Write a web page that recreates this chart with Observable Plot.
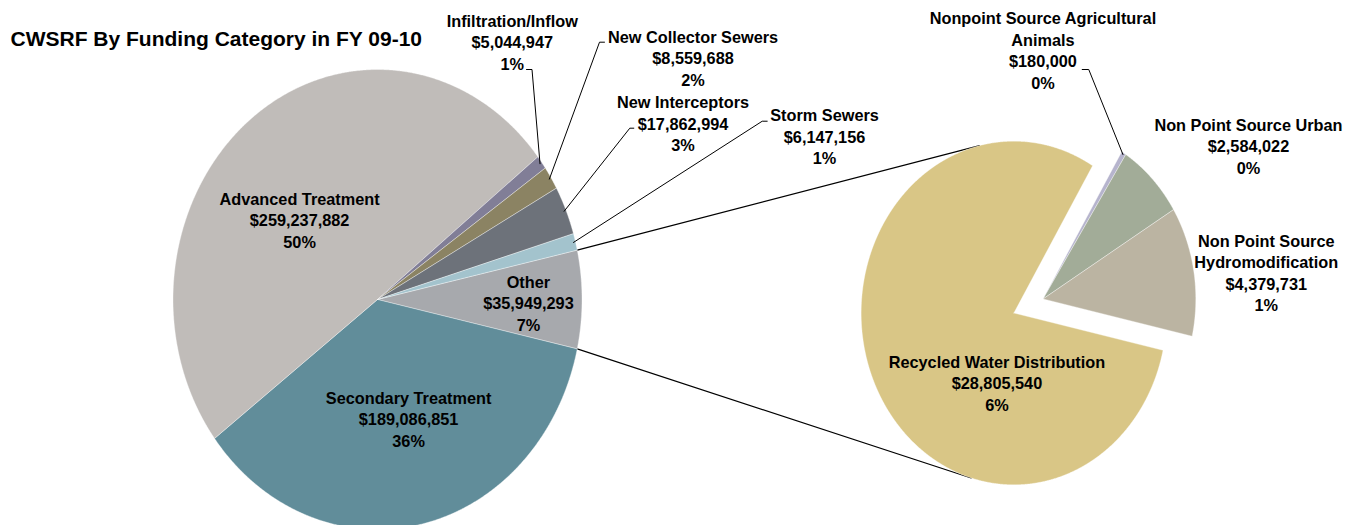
<!DOCTYPE html>
<html><head><meta charset="utf-8">
<script src="https://cdn.jsdelivr.net/npm/d3@7"></script>
<script src="https://cdn.jsdelivr.net/npm/@observablehq/plot@0.6"></script>
<style>body{margin:0;background:#fff}</style>
</head><body><div id="chart"></div>
<script>
const title = "CWSRF By Funding Category in FY 09-10";
// main pie, clockwise order starting with the "Other" slice
const mainCategories = ["Other","Secondary Treatment","Advanced Treatment","Infiltration/Inflow","New Collector Sewers","New Interceptors","Storm Sewers"];
const mainValues = [35949293,189086851,259237882,5044947,8559688,17862994,6147156];
const mainColors = ["#a7a9ad","#618d9a","#c0bcb9","#817e97","#8b8363","#6d727a","#a3c3cd"];
// secondary pie (breakdown of "Other"), clockwise
const subCategories = ["Nonpoint Source Agricultural\nAnimals","Non Point Source Urban","Non Point Source\nHydromodification","Recycled Water Distribution"];
const subValues = [180000,2584022,4379731,28805540];
const subColors = ["#b6b4cd","#a2ac98","#bbb4a2","#d9c686"];
const subExploded = [true,true,true,false];

// ---- layout (chart units: main pie radius = 1, centre at 0,0) ----
const W = 1356, H = 525;
const PX = 204.5, PY = 230, CX = 377, CY = 299;
const ux = p => (p - CX) / PX, uy = p => (CY - p) / PY;
const subPie = {cx: 3.112, cy: -0.0587, r: 0.747, start: 31, explode: 0.155};
const labelPos = {
  "Advanced Treatment": [-0.381, 0.348],
  "Secondary Treatment": [0.152, -0.516],
  "Other": [0.738, -0.012],
  "Infiltration/Inflow": [0.659, 1.122],
  "New Collector Sewers": [1.543, 1.053],
  "New Interceptors": [1.494, 0.768],
  "Storm Sewers": [2.186, 0.711],
  "Nonpoint Source Agricultural\nAnimals": [3.254, 1.086],
  "Non Point Source Urban": [4.259, 0.670],
  "Non Point Source\nHydromodification": [4.346, 0.120],
  "Recycled Water Distribution": [3.029, -0.360]
};
const leaderStart = {
  "Infiltration/Inflow": [[0.7286, 1.0], [0.7555, 1.0]],
  "New Collector Sewers": [[1.110, 1.1187], [1.0856, 1.1187]],
  "New Interceptors": [[1.2533, 0.7448], [1.2337, 0.7448]],
  "Storm Sewers": [[1.9056, 0.7752], [1.8812, 0.7752]],
  "Nonpoint Source Agricultural\nAnimals": [[3.446, 1.0], [3.478, 1.0]]
};

const rad = Math.PI / 180;
const pt = (a, r, cx, cy) => [cx + r * Math.sin(a * rad), cy + r * Math.cos(a * rad)];
const total = d3.sum(mainValues);
const fmt$ = d3.format("$,");

function slices(names, values, colors, start, cx, cy, r, offsets) {
  const sum = d3.sum(values);
  let a = start;
  return names.map((name, i) => {
    const span = values[i] / sum * 360;
    const s = {name, value: values[i], color: colors[i], a0: a, a1: a + span, mid: a + span / 2, cx, cy, r};
    if (offsets) { s.cx += offsets[i][0]; s.cy += offsets[i][1]; }
    a += span;
    return s;
  });
}

const otherSpan = mainValues[0] / total * 360;
const mainSlices = slices(mainCategories, mainValues, mainColors, 90 - otherSpan / 2, 0, 0, 1);

// exploded offset for small secondary slices
const subSum = d3.sum(subValues);
const smallSpan = d3.sum(subValues.filter((v, i) => subExploded[i])) / subSum * 360;
const exMid = subPie.start + smallSpan / 2;
const exOff = [subPie.explode * Math.sin(exMid * rad), subPie.explode * Math.cos(exMid * rad)];
const subSlices = slices(subCategories, subValues, subColors, subPie.start, subPie.cx, subPie.cy, subPie.r,
  subExploded.map(e => e ? exOff : [0, 0]));

function polys(sl) {
  const out = [];
  for (const s of sl) {
    const n = Math.max(2, Math.ceil((s.a1 - s.a0) / 0.25));
    out.push({name: s.name, color: s.color, x: s.cx, y: s.cy});
    for (let k = 0; k <= n; k++) {
      const [x, y] = pt(s.a0 + (s.a1 - s.a0) * k / n, s.r, s.cx, s.cy);
      out.push({name: s.name, color: s.color, x, y});
    }
    out.push({name: s.name, color: s.color, x: s.cx, y: s.cy});
  }
  return out;
}
const allSlices = [...mainSlices, ...subSlices];
const polyData = polys(allSlices);

// connector lines: from Other's arc ends, tangent to secondary pie
const oth = mainSlices[0];
function tangent(P, sign) {
  const vx = P[0] - subPie.cx, vy = P[1] - subPie.cy;
  const d = Math.hypot(vx, vy), base = Math.atan2(vy, vx), th = Math.acos(subPie.r / d);
  const ang = base + sign * th;
  return [subPie.cx + subPie.r * Math.cos(ang), subPie.cy + subPie.r * Math.sin(ang)];
}
const P1 = pt(oth.a0, 1, 0, 0), P2 = pt(oth.a1, 1, 0, 0);
const T1 = tangent(P1, -1), T2 = tangent(P2, 1);
const connData = [
  {id: "up", x: P1[0], y: P1[1]}, {id: "up", x: T1[0], y: T1[1]},
  {id: "dn", x: P2[0], y: P2[1]}, {id: "dn", x: T2[0], y: T2[1]}
];

// leader lines
const leaderData = [];
for (const s of allSlices) {
  const st = leaderStart[s.name];
  if (!st) continue;
  const e = pt(s.mid, s.r * 0.99, s.cx, s.cy);
  for (const p of [...st, e]) leaderData.push({id: s.name, x: p[0], y: p[1]});
}

// labels
const labelData = allSlices.map(s => ({
  text: `${s.name}\n${fmt$(s.value)}\n${Math.round(s.value / total * 100)}%`,
  x: labelPos[s.name][0], y: labelPos[s.name][1]
}));

const chart = Plot.plot({
  width: W, height: H, margin: 0,
  x: {domain: [ux(0), ux(W)], axis: null},
  y: {domain: [uy(H), uy(0)], axis: null},
  color: {type: "identity"},
  style: {background: "#fff", fontFamily: "'Liberation Sans', Arial, sans-serif", overflow: "visible"},
  marks: [
    Plot.line(connData, {x: "x", y: "y", z: "id", stroke: "#000", strokeWidth: 1.1}),
    Plot.line(polyData, {x: "x", y: "y", z: "name", fill: "color", stroke: "#fff", strokeWidth: 0.6, strokeOpacity: 0.6, curve: "linear-closed"}),
    Plot.line(leaderData, {x: "x", y: "y", z: "id", stroke: "#000", strokeWidth: 1}),
    Plot.text(labelData, {x: "x", y: "y", text: "text", fontSize: 16.3, fontWeight: "bold", lineHeight: 1.32, fill: "#000", textAnchor: "middle", lineAnchor: "middle"}),
    Plot.text([title], {frameAnchor: "top-left", dx: 10, dy: 31, text: d => d, fontSize: 21, fontWeight: "bold", fill: "#000", textAnchor: "start", lineAnchor: "top"})
  ]
});
document.getElementById("chart").appendChild(chart);
</script>
</body></html>
